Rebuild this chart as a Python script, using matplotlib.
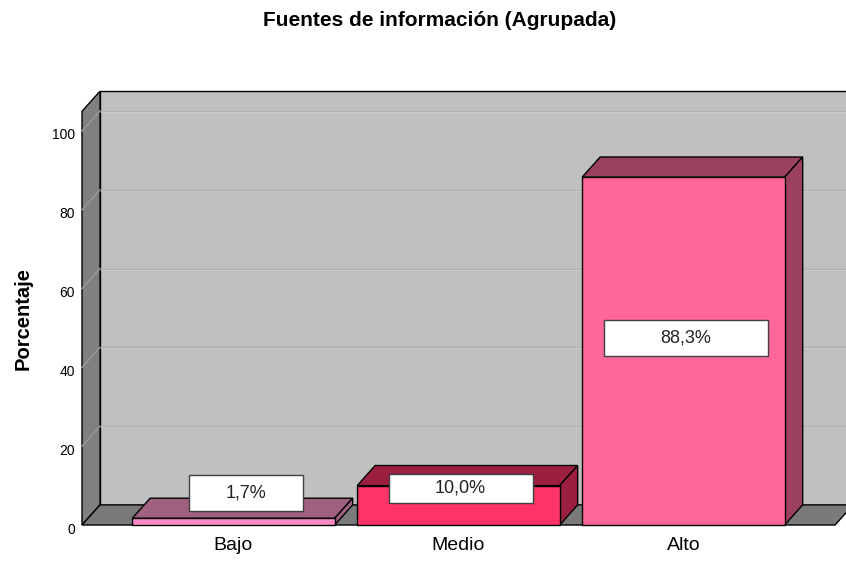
import matplotlib.pyplot as plt
import matplotlib.transforms as mtransforms
from matplotlib.patches import Polygon, Rectangle

plt.rcParams['font.family'] = ['Liberation Sans', 'DejaVu Sans']

# data
categories = ['Bajo', 'Medio', 'Alto']
percent = [1.7, 10.0, 88.3]
labels = ['1,7%', '10,0%', '88,3%']
front_colors = ['#ff8cc6', '#ff3366', '#ff6699']
side_colors = ['#a0607f', '#9c1f40', '#9c4060']

# 3d look: depth offset in data units
dx, dy = 0.08, 5.1
x0, x1 = -0.673, 2.674
ytop = 105
bar_w = 0.9
px_y = 3.94   # pixels per percent

fig = plt.figure(figsize=(8.46, 5.62), dpi=100)
ax = fig.add_axes([82 / 846, 37 / 562, 764 / 846, 435 / 562])
ax.set_xlim(x0, x0 + 764 / 225)
ax.set_ylim(0, 435 / px_y)

def poly(pts, fc, z=1, ec='black', lw=1.0):
    ax.add_patch(Polygon(pts, closed=True, facecolor=fc, edgecolor=ec,
                         lw=lw, zorder=z, clip_on=False, joinstyle='miter'))

# back wall
poly([(x0 + dx, dy), (x1 + dx + 0.5, dy), (x1 + dx + 0.5, ytop + dy),
      (x0 + dx, ytop + dy)], '#c0c0c0', z=0)
# left wall
poly([(x0, 0), (x0 + dx, dy), (x0 + dx, ytop + dy), (x0, ytop)], '#808080', z=1)
# floor
poly([(x0, 0), (x1, 0), (x1 + dx, dy), (x0 + dx, dy)], '#7a7a7a', z=1)

# gridlines on back and left wall
for t in range(20, 101, 20):
    ax.plot([x0 + dx, x1 + dx + 0.5], [t + dy, t + dy], color='#b0b0b0',
            lw=1, zorder=0.5, clip_on=False)
    ax.plot([x0 + dx, x1 + dx + 0.5], [t + dy - 0.3, t + dy - 0.3], color='#cdcdcd',
            lw=0.6, zorder=0.5, clip_on=False)
    ax.plot([x0, x0 + dx], [t, t + dy], color='#9a9a9a', lw=1, zorder=1.5, clip_on=False)

# bars
for i, (v, fc, sc) in enumerate(zip(percent, front_colors, side_colors)):
    l, r = i - bar_w / 2, i + bar_w / 2
    poly([(l, v), (r, v), (r + dx, v + dy), (l + dx, v + dy)], sc, z=3)
    poly([(r, 0), (r + dx, dy), (r + dx, v + dy), (r, v)], sc, z=3)
    poly([(l, 0), (r, 0), (r, v), (l, v)], fc, z=3)

# value labels
box_w = [0.507, 0.64, 0.729]
box_h = [9.1, 7.4, 9.1]
for i, (v, lab) in enumerate(zip(percent, labels)):
    cy = max(v / 2 + 3.3, 8.1) + (1.0 if 5 < v < 20 else 0)
    cx = i + (0.056 if v < 5 else 0.01)
    ax.add_patch(Rectangle((cx - box_w[i] / 2, cy - box_h[i] / 2), box_w[i], box_h[i],
                           facecolor='white', edgecolor='#404040', lw=1, zorder=4,
                           clip_on=False))
    ax.text(cx, cy, lab, ha='center', va='center', fontsize=13, color='#222222', zorder=5)

ax.set_xticks(range(len(categories)))
ax.set_xticklabels(categories, fontsize=14)
ax.set_yticks(range(0, 101, 20))
ax.tick_params(axis='y', length=0, pad=5, labelsize=10)
ax.tick_params(axis='x', length=0, pad=9)
shift = mtransforms.ScaledTranslation(0, -3 / 100, fig.dpi_scale_trans)
for lab in ax.get_yticklabels():
    lab.set_transform(lab.get_transform() + shift)
for s in ax.spines.values():
    s.set_visible(False)
ax.patch.set_visible(False)

fig.text(23 / 846, 1 - 319 / 562, 'Porcentaje', rotation=90, ha='center', va='center',
         fontsize=14.5, fontweight='bold')
fig.text(440 / 846, 1 - 20 / 562, 'Fuentes de información (Agrupada)', ha='center',
         va='center', fontsize=15, fontweight='bold')

fig.savefig('out.png', dpi=100)
